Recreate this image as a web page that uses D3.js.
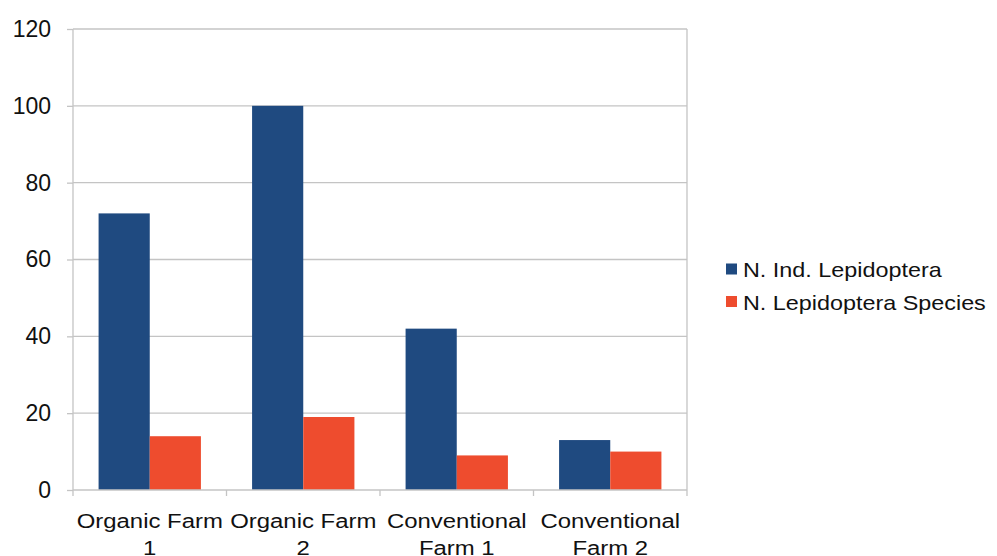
<!DOCTYPE html>
<html>
<head>
<meta charset="utf-8">
<script src="https://cdn.jsdelivr.net/npm/d3@7"></script>
<style>
  html, body { margin: 0; padding: 0; background: #fff; }
  svg { display: block; font-family: "Liberation Sans", Arial, sans-serif; }
</style>
</head>
<body>
<svg id="chart" width="997" height="556"></svg>
<script>
// Farm categories (two-line labels)
const categories = [
  ["Organic Farm", "1"],
  ["Organic Farm", "2"],
  ["Conventional", "Farm 1"],
  ["Conventional", "Farm 2"]
];
const seriesNames = ["N. Ind. Lepidoptera", "N. Lepidoptera Species"];
const individuals = [72, 100, 42, 13];
const species = [14, 19, 9, 10];
const yTicks = [0, 20, 40, 60, 80, 100, 120];
const colors = ["#1f4a80", "#ee4c2e"];

const svg = d3.select("#chart");
const margin = { left: 73, right: 310, top: 29, bottom: 66 };
const W = 997, H = 556;
const plotW = W - margin.left - margin.right;
const plotH = H - margin.top - margin.bottom;
const stretch = 1.14; // wide lettering for category and legend labels

const g = svg.append("g").attr("transform", `translate(${margin.left},${margin.top})`);

const x = d3.scaleBand().domain(d3.range(categories.length)).range([0, plotW]).paddingInner(0).paddingOuter(0);
const xs = d3.scaleBand().domain([0, 1]).range([x.bandwidth() / 6, x.bandwidth() * 5 / 6]);
const y = d3.scaleLinear().domain([0, 120]).range([plotH, 0]);

// horizontal gridlines
g.append("g").selectAll("line").data(yTicks.filter(t => t > 0)).join("line")
  .attr("x1", 0).attr("x2", plotW)
  .attr("y1", d => y(d)).attr("y2", d => y(d))
  .attr("stroke", "#c4c4c4").attr("stroke-width", 1.3);

// right border of plot area
g.append("line").attr("x1", plotW).attr("x2", plotW).attr("y1", 0).attr("y2", plotH)
  .attr("stroke", "#c4c4c4").attr("stroke-width", 1.3);

// bars
const series = [individuals, species];
series.forEach((vals, si) => {
  g.append("g").selectAll("rect").data(vals).join("rect")
    .attr("x", (d, i) => x(i) + xs(si))
    .attr("width", xs.bandwidth())
    .attr("y", d => y(d))
    .attr("height", d => plotH - y(d))
    .attr("fill", colors[si]);
});

// y axis
const yAxis = g.append("g").call(d3.axisLeft(y).tickValues(yTicks).tickSize(6).tickPadding(16).tickFormat(d3.format("d")));
yAxis.select(".domain").attr("stroke", "#c4c4c4").attr("stroke-width", 1.3).attr("d", `M0,0V${plotH}`);
yAxis.selectAll(".tick line").attr("stroke", "#c4c4c4").attr("stroke-width", 1.3);
yAxis.selectAll(".tick text").attr("font-size", 23).attr("fill", "#111")
  .attr("font-family", "'Liberation Sans', Arial, sans-serif");

// x axis baseline and category boundary ticks
g.append("line").attr("x1", 0).attr("x2", plotW).attr("y1", plotH).attr("y2", plotH)
  .attr("stroke", "#c4c4c4").attr("stroke-width", 1.3);
g.append("g").selectAll("line").data(d3.range(categories.length + 1)).join("line")
  .attr("x1", i => i * x.step()).attr("x2", i => i * x.step())
  .attr("y1", plotH).attr("y2", plotH + 6)
  .attr("stroke", "#c4c4c4").attr("stroke-width", 1.3);

// category labels
const lbl = g.append("g").selectAll("text").data(categories).join("text")
  .attr("text-anchor", "middle")
  .attr("font-size", 21).attr("fill", "#111")
  .attr("transform", (d, i) => `translate(${x(i) + x.bandwidth() / 2},${plotH + 38}) scale(${stretch},1)`);
lbl.selectAll("tspan").data(d => d).join("tspan")
  .attr("x", 0).attr("dy", (d, j) => j === 0 ? 0 : 27).text(d => d);

// legend
const legend = svg.append("g").attr("transform", "translate(726,269)");
const li = legend.selectAll("g").data(seriesNames).join("g")
  .attr("transform", (d, i) => `translate(0,${i * 32.5})`);
li.append("rect").attr("x", 0).attr("y", -5.5).attr("width", 11).attr("height", 11)
  .attr("fill", (d, i) => colors[i]);
li.append("text")
  .attr("transform", `translate(17,8) scale(${stretch},1)`)
  .attr("font-size", 20.5).attr("fill", "#111").text(d => d);
</script>
</body>
</html>
